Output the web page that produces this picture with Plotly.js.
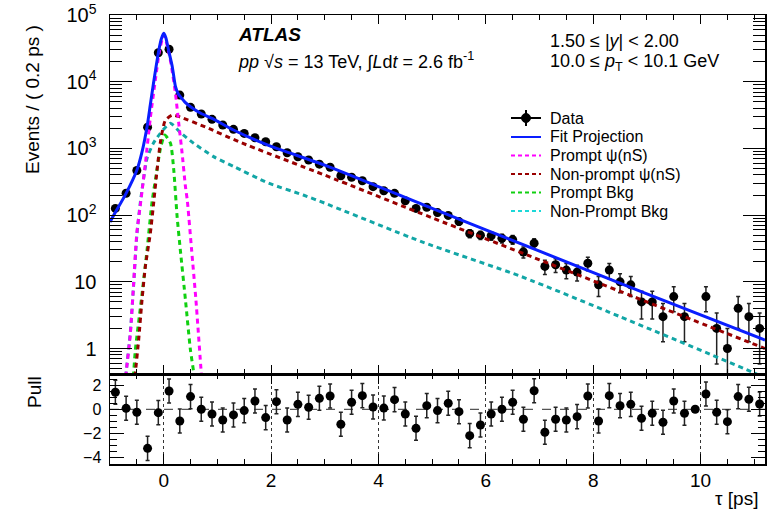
<!DOCTYPE html>
<html><head><meta charset="utf-8">
<script src="https://cdn.plot.ly/plotly-3.0.1.min.js"></script>
<style>html,body{margin:0;padding:0;background:#fff}#chart{width:776px;height:511px}</style>
</head><body><div id="chart"></div>
<script>
// ---- data ----
const tau = [-0.9,-0.7,-0.5,-0.3,-0.1,0.1,0.3,0.5,0.7,0.9,1.1,1.3,1.5,1.7,1.9,2.1,2.3,2.5,2.7,2.9,3.1,3.3,3.5,3.7,3.9,4.1,4.3,4.5,4.7,4.9,5.1,5.3,5.5,5.7,5.9,6.1,6.3,6.5,6.7,6.9,7.1,7.3,7.5,7.7,7.9,8.1,8.3,8.5,8.7,8.9,9.1,9.3,9.5,9.7,9.9,10.1,10.3,10.5,10.7,10.9,11.1];
const counts = [126,213,466,2080,27200,30600,6300,4130,3280,2730,2240,1930,1680,1445,1260,1060,862,751,670,580,521,389,369,328,267,232,212,164,126,131,109,99,80,53,50,49,45,43,28,38,17,18,15,14,19,9,15,10,9,5,5,3,6,3,null,6,2,1,4,3,2];
const pull = [1.41,0.08,-0.25,-3.24,-0.28,1.52,-0.97,1.05,0.0,-0.39,-0.89,-0.47,-0.11,0.69,-0.69,0.63,-0.89,0.41,0.17,0.91,1.1,-1.24,0.58,1.13,0.19,0.1,0.8,-0.39,-1.58,0.3,-0.11,0.5,-0.2,-2.19,-1.3,-0.39,0.0,0.58,-0.83,1.54,-1.91,-0.83,-0.89,-0.61,1.1,-0.97,1.13,0.3,0.41,-0.75,-0.33,-1.08,0.69,-0.33,0.0,1.27,-0.25,-1.03,1.05,0.83,0.44];
const pullErr = [1,1,1,1,1,1,1,1,1,1,1,1,1,1,1,1,1,1,1,1,1,1,1,1,1,1,1,1,1,1,1,1,1,1,1,1,1,1,1,1,1,1,1,1,1,1,1,1,1,1,1,1,1,1,0,1,1,1,1,1,1];

const fitTau = [-1.0,-0.9,-0.7,-0.5,-0.4,-0.31,-0.25,-0.19,-0.09,-0.04,0,0.04,0.09,0.16,0.22,0.27,0.31,0.4,0.5,0.69,0.9,1.3,2.0,3.0,5.0,7.0,9.0,11.2];
const fitVal = [79,110,212,470,912,2113,4467,9460,29850,44700,53200,45700,29850,16800,8410,6600,5960,4900,4220,3360,2825,1888,1072,562,126,28.8,6.6,1.34];

const promptTau = [-0.72,-0.70,-0.62,-0.56,-0.50,-0.435,-0.40,-0.34,-0.25,-0.155,-0.08,0,0.08,0.146,0.218,0.28,0.343,0.405,0.44,0.52,0.60,0.70,0.72];
const promptVal = [0.28,0.43,1.7,9.5,54,141,240,603,2818,10700,28200,50100,31600,16800,6760,2400,851,269,166,30,5.4,0.43,0.28];

const nonPromptTau = [-0.55,-0.528,-0.466,-0.403,-0.341,-0.248,-0.187,-0.12,-0.06,0.03,0.16,0.31,0.78,1.4,3.0,5.0,7.0,9.0,11.2];
const nonPromptVal = [0.28,0.43,1.35,5.4,17,54,151,501,1259,2630,3162,2951,2089,1259,398,91,21.4,5.0,1.0];

const promptBkgTau = [-0.58,-0.56,-0.528,-0.416,-0.31,-0.217,-0.15,-0.06,0.02,0.125,0.187,0.25,0.31,0.405,0.498,0.56,0.58];
const promptBkgVal = [0.28,0.43,0.95,5.4,30,158,355,1000,1585,1202,479,95,30,5.4,0.95,0.43,0.28];

const nonPromptBkgTau = [-0.72,-0.70,-0.62,-0.56,-0.50,-0.43,-0.31,-0.19,-0.06,0.125,0.31,0.56,0.93,1.31,1.95,2.6,3.0,4.8,6.66,8.5,11.0,11.2];
const nonPromptBkgVal = [0.28,0.43,1.8,8.9,50,166,708,1202,1698,2377,1738,1191,752,532,302,200,151,40,12,3.0,0.43,0.36];

const legendLabels = ['Data','Fit Projection','Prompt ψ(nS)','Non-prompt ψ(nS)','Prompt Bkg','Non-Prompt Bkg'];
const yTickVals = [1,10,100,1000,10000,100000];
const yTickText = ['1','10','10<sup>2</sup>','10<sup>3</sup>','10<sup>4</sup>','10<sup>5</sup>'];

// ---- styles ----
const C = {fit:'#0a1eff', prompt:'#ff00ff', np:'#990000', pb:'#10d010', npb:'#12a6a6'};
const DASH = '5px,4px';
const FONT = 'Liberation Sans, Arial, Helvetica, sans-serif';

// pixel helpers for decorations (plot area: x 110..765, y 15..464)
const L = 110, R = 765, T = 15, B = 464;
const X = px => (px - L) / (R - L);
const Y = py => (B - py) / (B - T);

const minorVals = [];
for (let e = -1; e < 5; e++) for (let m = 2; m <= 9; m++) minorVals.push(m * Math.pow(10, e));

const traces = [
  {x: tau, y: counts, type:'scatter', mode:'markers', xaxis:'x', yaxis:'y',
   marker:{color:'#000', size:9}, error_y:{type:'sqrt', color:'#222', thickness:1.5, width:2}},
  {x: nonPromptBkgTau, y: nonPromptBkgVal, type:'scatter', mode:'lines', xaxis:'x', yaxis:'y',
   line:{color:C.npb, width:3, dash:DASH, shape:'spline', smoothing:0.6}},
  {x: promptBkgTau, y: promptBkgVal, type:'scatter', mode:'lines', xaxis:'x', yaxis:'y',
   line:{color:C.pb, width:3, dash:DASH, shape:'spline', smoothing:0.6}},
  {x: nonPromptTau, y: nonPromptVal, type:'scatter', mode:'lines', xaxis:'x', yaxis:'y',
   line:{color:C.np, width:3, dash:DASH, shape:'spline', smoothing:0.6}},
  {x: promptTau, y: promptVal, type:'scatter', mode:'lines', xaxis:'x', yaxis:'y',
   line:{color:C.prompt, width:3, dash:DASH, shape:'spline', smoothing:0.6}},
  {x: fitTau, y: fitVal, type:'scatter', mode:'lines', xaxis:'x', yaxis:'y',
   line:{color:C.fit, width:3, shape:'spline', smoothing:0.6}},
  {x: tau, y: pull, type:'scatter', mode:'markers', xaxis:'x2', yaxis:'y2',
   marker:{color:'#000', size:9}, error_y:{type:'data', array:pullErr, color:'#222', thickness:1.5, width:2}}
];

const axisCommon = {showline:true, linecolor:'#000', linewidth:1.5, mirror:'allticks',
  ticks:'inside', tickcolor:'#000', tickwidth:1, zeroline:false, showgrid:false};

const annotations = [
  {text:'<b><i>ATLAS</i></b>', x:X(236), y:Y(35), font:{size:19}},
  {text:'<i>pp</i> √<i>s</i> = 13 TeV, ∫<i>L</i>d<i>t</i> = 2.6 fb<sup>-1</sup>', x:X(236), y:Y(61), font:{size:18}},
  {text:'1.50 ≤ |<i>y</i>| &lt; 2.00', x:X(548), y:Y(41.5), font:{size:18}},
  {text:'10.0 ≤ <i>p</i><sub>T</sub> &lt; 10.1 GeV', x:X(548), y:Y(62), font:{size:18}},
  {text:'τ [ps]', x:X(760), y:Y(498), xanchor:'right', font:{size:19}},
  {text:'Events / ( 0.2 ps )', x:X(33), y:Y(100), textangle:-90, xanchor:'center', font:{size:19}},
  {text:'Pull', x:X(34), y:Y(392), textangle:-90, xanchor:'center', font:{size:19}}
];
const rowY = [118, 137, 155.5, 174, 192.5, 211];
legendLabels.forEach((t, i) => annotations.push({text:t, x:X(548), y:Y(rowY[i]), font:{size:16}}));
annotations.forEach(a => {
  a.xref = 'paper'; a.yref = 'paper'; a.showarrow = false;
  if (!a.xanchor) a.xanchor = 'left';
  a.yanchor = 'middle';
  a.font = Object.assign({family:FONT, color:'#000'}, a.font);
});

const shapes = [
  {type:'line', xref:'x2 domain', yref:'y2', x0:0, x1:1, y0:0, y1:0, line:{color:'#555', width:1.2, dash:'dash'}, layer:'below'},
  // legend samples
  {type:'line', xref:'paper', yref:'paper', x0:X(511), x1:X(541), y0:Y(rowY[0]), y1:Y(rowY[0]), line:{color:'#000', width:2}},
  {type:'line', xref:'paper', yref:'paper', x0:X(526), x1:X(526), y0:Y(rowY[0]-8), y1:Y(rowY[0]+8), line:{color:'#000', width:2}},
  {type:'circle', xref:'paper', yref:'paper', x0:X(521.5), x1:X(530.5), y0:Y(rowY[0]-4.5), y1:Y(rowY[0]+4.5), fillcolor:'#000', line:{color:'#000', width:1}},
  {type:'line', xref:'paper', yref:'paper', x0:X(511), x1:X(541), y0:Y(rowY[1]), y1:Y(rowY[1]), line:{color:C.fit, width:2}},
  {type:'line', xref:'paper', yref:'paper', x0:X(511), x1:X(541), y0:Y(rowY[2]), y1:Y(rowY[2]), line:{color:C.prompt, width:2, dash:'4px,3px'}},
  {type:'line', xref:'paper', yref:'paper', x0:X(511), x1:X(541), y0:Y(rowY[3]), y1:Y(rowY[3]), line:{color:C.np, width:2, dash:'4px,3px'}},
  {type:'line', xref:'paper', yref:'paper', x0:X(511), x1:X(541), y0:Y(rowY[4]), y1:Y(rowY[4]), line:{color:C.pb, width:2, dash:'4px,3px'}},
  {type:'line', xref:'paper', yref:'paper', x0:X(511), x1:X(541), y0:Y(rowY[5]), y1:Y(rowY[5]), line:{color:'#1cd8d8', width:2, dash:'4px,3px'}}
];

const layout = {
  width:776, height:511,
  margin:{l:110, r:11, t:15, b:47, pad:0},
  paper_bgcolor:'#fff', plot_bgcolor:'#fff',
  showlegend:false,
  font:{family:FONT, color:'#000', size:18},
  xaxis: Object.assign({}, axisCommon, {domain:[0,1], anchor:'y', range:[-1,11.2], tick0:0, dtick:2,
    ticklen:9, showticklabels:false,
    minor:{ticks:'inside', ticklen:5, dtick:0.5, tick0:0, tickcolor:'#000', tickwidth:1, showgrid:false}}),
  yaxis: Object.assign({}, axisCommon, {domain:[0.2,1], anchor:'x', type:'log', range:[-0.385,5],
    tickmode:'array', tickvals:yTickVals, ticktext:yTickText, ticklen:22, ticklabelstandoff:8,
    tickfont:{size:20, family:FONT},
    minor:{ticks:'inside', ticklen:12, tickmode:'array', tickvals:minorVals, tickcolor:'#000', tickwidth:1, showgrid:false}}),
  xaxis2: Object.assign({}, axisCommon, {domain:[0,1], anchor:'y2', range:[-1,11.2], tick0:0, dtick:2,
    ticklen:10, tickfont:{size:19, family:FONT}, ticklabelstandoff:-1,
    showgrid:true, gridcolor:'#333', gridwidth:1, griddash:'dot',
    minor:{ticks:'inside', ticklen:5, dtick:0.5, tick0:0, tickcolor:'#000', tickwidth:1, showgrid:false}}),
  yaxis2: Object.assign({}, axisCommon, {domain:[0,0.2], anchor:'x2', range:[-4.54,2.91],
    tickmode:'array', tickvals:[-4,-2,0,2], ticklen:14, ticklabelstandoff:4,
    tickfont:{size:16, family:FONT},
    minor:{ticks:'inside', ticklen:7, dtick:0.5, tick0:0, tickcolor:'#000', tickwidth:1, showgrid:false}}),
  annotations: annotations,
  shapes: shapes
};

Plotly.newPlot('chart', traces, layout, {displayModeBar:false, staticPlot:true});
</script>
</body></html>
